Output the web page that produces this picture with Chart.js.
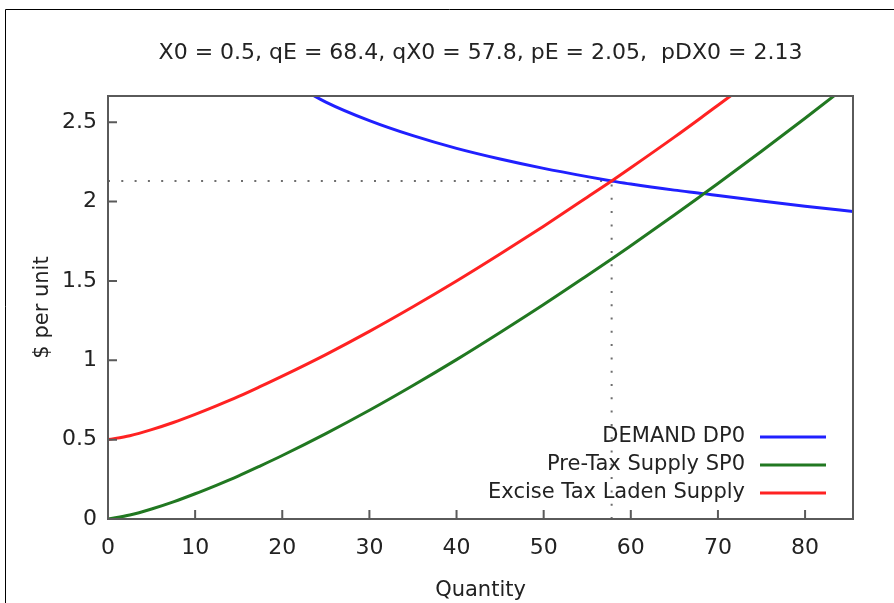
<!DOCTYPE html>
<html lang="en">
<head>
    <meta charset="UTF-8">
    <title>Excise Tax Supply and Demand</title>
    <script src="https://cdn.jsdelivr.net/npm/chart.js"></script>
    <style>
        body { margin: 0; background: #fff; }
    </style>
</head>
<body>
    <canvas id="taxChart" width="894" height="603"></canvas>

    <script>
        // model parameters shown in the heading
        const X0 = 0.5, qE = 68.4, qX0 = 57.8, pE = 2.05, pDX0 = 2.13;

        const quantity    = [0, 2.5, 5, 7.5, 10, 12.5, 15, 17.5, 20, 25, 30, 35, 40, 45, 50, 55, 57.8, 60, 65, 68.4, 70, 75, 80, 86];
        const demandDP0   = [null, null, null, null, null, null, null, null, 2.78, 2.627, 2.51, 2.415, 2.335, 2.268, 2.209, 2.157, 2.13, 2.11, 2.072, 2.05, 2.038, 2.003, 1.97, 1.935];
        const supplySP0   = [0, 0.025, 0.063, 0.108, 0.159, 0.214, 0.272, 0.335, 0.4, 0.538, 0.685, 0.841, 1.004, 1.175, 1.351, 1.534, 1.638, 1.722, 1.915, 2.05, 2.114, 2.317, 2.525, 2.78];
        const taxedSupply = [0.5, 0.525, 0.563, 0.608, 0.659, 0.714, 0.772, 0.835, 0.9, 1.036, 1.182, 1.337, 1.499, 1.669, 1.845, 2.027, 2.13, 2.213, 2.406, 2.542, 2.607, 2.81, 3.017, 3.27];

        const xTicks = [0, 10, 20, 30, 40, 50, 60, 70, 80];
        const yTicks = [0, 0.5, 1, 1.5, 2, 2.5];
        const xMax = 85.5;
        const yMax = 2.665;

        const FONT = 'DejaVu Sans';
        const INK = '#222222';

        const heading = `X0 = ${X0}, qE = ${qE}, qX0 = ${qX0}, pE = ${pE},  pDX0 = ${pDX0}`;

        function points(ys) {
            return quantity.map((q, i) => ({ x: q, y: ys[i] }));
        }

        function curve(label, ys, color, order) {
            return {
                label: label,
                data: points(ys),
                borderColor: color,
                borderWidth: 3,
                pointRadius: 0,
                cubicInterpolationMode: 'monotone',
                order: order,
                clip: 0
            };
        }

        function dotted(data) {
            return {
                data: data,
                borderColor: '#6e6e6e',
                borderWidth: 2,
                borderDash: [2, 11.3],
                pointRadius: 0,
                order: 5,
                clip: 0
            };
        }

        // thin black page frame on top and left
        const pageFrame = {
            id: 'pageFrame',
            beforeDraw(chart) {
                const ctx = chart.ctx;
                ctx.save();
                ctx.strokeStyle = '#000';
                ctx.lineWidth = 1;
                ctx.beginPath();
                ctx.moveTo(5.5, chart.height);
                ctx.lineTo(5.5, 9.5);
                ctx.lineTo(chart.width, 9.5);
                ctx.stroke();
                ctx.restore();
            }
        };

        // gnuplot style border with ticks pointing inwards
        const plotBorder = {
            id: 'plotBorder',
            afterDatasetsDraw(chart) {
                const { ctx, chartArea: a, scales } = chart;
                ctx.save();
                ctx.strokeStyle = '#5a5a5a';
                ctx.lineWidth = 2;
                ctx.strokeRect(a.left, a.top, a.right - a.left, a.bottom - a.top);
                ctx.beginPath();
                scales.x.ticks.forEach(t => {
                    const px = scales.x.getPixelForValue(t.value);
                    ctx.moveTo(px, a.bottom);
                    ctx.lineTo(px, a.bottom - 9);
                });
                scales.y.ticks.forEach(t => {
                    const py = scales.y.getPixelForValue(t.value);
                    ctx.moveTo(a.left, py);
                    ctx.lineTo(a.left + 9, py);
                });
                ctx.stroke();
                ctx.restore();
            }
        };

        // heading above the plot and key in the lower right corner
        const headingAndKey = {
            id: 'headingAndKey',
            afterDraw(chart) {
                const { ctx, chartArea: a } = chart;
                ctx.save();
                ctx.fillStyle = INK;
                ctx.textBaseline = 'middle';
                ctx.textAlign = 'center';
                ctx.font = `22px "${FONT}"`;
                ctx.fillText(heading, (a.left + a.right) / 2, 53);

                const keyed = chart.data.datasets.filter(d => d.label);
                ctx.font = `21px "${FONT}"`;
                ctx.textAlign = 'right';
                ctx.lineWidth = 3;
                keyed.forEach((d, i) => {
                    const y = a.bottom - 82 + i * 28;
                    ctx.fillText(d.label, a.right - 108, y);
                    ctx.strokeStyle = d.borderColor;
                    ctx.beginPath();
                    ctx.moveTo(a.right - 93, y);
                    ctx.lineTo(a.right - 27, y);
                    ctx.stroke();
                });
                ctx.restore();
            }
        };

        new Chart(document.getElementById('taxChart'), {
            type: 'line',
            data: {
                datasets: [
                    curve('DEMAND DP0', demandDP0, '#2020ff', 3),
                    curve('Pre-Tax Supply SP0', supplySP0, '#217821', 2),
                    curve('Excise Tax Laden Supply', taxedSupply, '#ff2222', 1),
                    dotted([{ x: 0, y: pDX0 }, { x: qX0, y: pDX0 }]),
                    dotted([{ x: qX0, y: 0 }, { x: qX0, y: pDX0 }])
                ]
            },
            options: {
                responsive: false,
                animation: false,
                layout: {
                    padding: { left: 0, right: 41, top: 96, bottom: 0 }
                },
                plugins: {
                    legend: { display: false },
                    tooltip: { enabled: false }
                },
                scales: {
                    x: {
                        type: 'linear',
                        min: 0,
                        max: xMax,
                        afterBuildTicks: s => { s.ticks = xTicks.map(v => ({ value: v })); },
                        afterFit: s => { s.height = 84; },
                        grid: { display: false, drawTicks: false },
                        border: { display: false },
                        ticks: {
                            padding: 16,
                            color: INK,
                            font: { family: FONT, size: 22 },
                            callback: v => String(v)
                        },
                        title: {
                            display: true,
                            text: 'Quantity',
                            color: INK,
                            font: { family: FONT, size: 21 },
                            padding: { top: 0, bottom: 0 }
                        }
                    },
                    y: {
                        type: 'linear',
                        min: 0,
                        max: yMax,
                        afterBuildTicks: s => { s.ticks = yTicks.map(v => ({ value: v })); },
                        afterFit: s => { s.width = 108; },
                        grid: { display: false, drawTicks: false },
                        border: { display: false },
                        ticks: {
                            padding: 11,
                            color: INK,
                            font: { family: FONT, size: 22 },
                            callback: v => String(v)
                        },
                        title: {
                            display: true,
                            text: '$ per unit',
                            color: INK,
                            font: { family: FONT, size: 21 },
                            padding: { top: 30, bottom: 0 }
                        }
                    }
                }
            },
            plugins: [pageFrame, plotBorder, headingAndKey]
        });
    </script>
</body>
</html>
